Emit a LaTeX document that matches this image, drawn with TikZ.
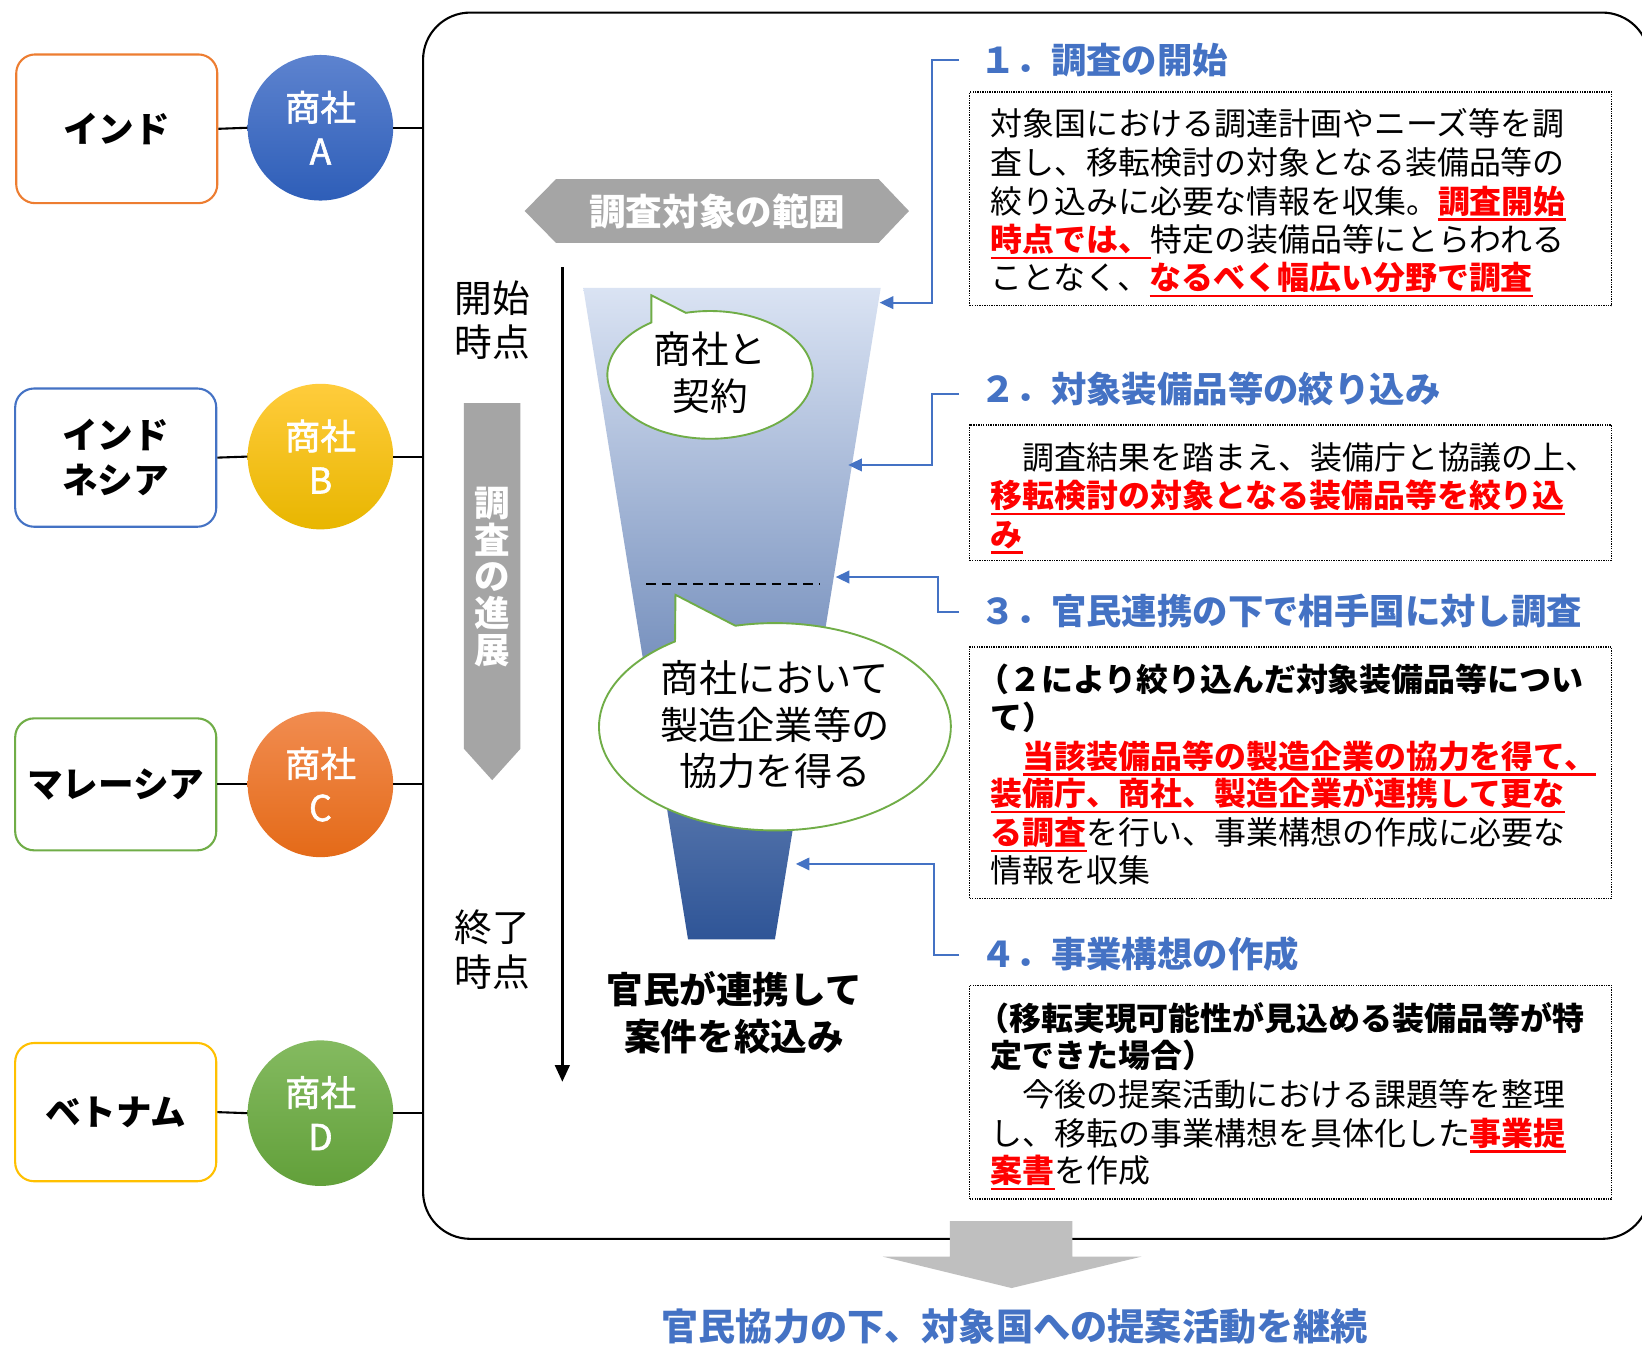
\documentclass[tikz,border=0pt]{standalone}
\usepackage{fontspec}
\setmainfont{Noto Sans CJK JP}
\newfontfamily\medfont{Noto Sans CJK JP}[FakeBold=1.6]
\usetikzlibrary{arrows.meta}
\definecolor{jblue}{HTML}{4472C4}
\definecolor{jorange}{HTML}{ED7D31}
\definecolor{jgreen}{HTML}{70AD47}
\definecolor{jyellow}{HTML}{FFC000}
\definecolor{jgray}{HTML}{A5A5A5}
\definecolor{jlgray}{HTML}{BFBFBF}
\definecolor{jred}{HTML}{FF0000}
\newcommand\redu[1]{{\color{jred}\bfseries\setbox0\hbox{#1}\rlap{\rule[-7pt]{\wd0}{2.2pt}}\box0}}
\tikzset{
 ctry/.style={draw, line width=2pt, rounded corners=18pt, fill=white, minimum width=192pt, align=center, inner sep=0pt, font=\fontsize{34}{43}\selectfont\bfseries},
 firm/.style={circle, minimum size=139pt, inner sep=0pt, text=white, align=center, font=\medfont\fontsize{34}{42}\selectfont},
 link/.style={line width=2pt, black},
 dotbox/.style={draw, densely dotted, line width=1.3pt, minimum width=613pt, inner sep=0pt},
 txt/.style={anchor=base west, inner sep=0pt, font=\fontsize{30.5}{36}\selectfont},
 btxt/.style={anchor=base west, inner sep=0pt, font=\fontsize{30.5}{36}\selectfont\bfseries},
 hd/.style={anchor=base west, inner sep=0pt, text=jblue, font=\fontsize{33.8}{40}\selectfont\bfseries},
 bconn/.style={jblue, line width=1.8pt, -{Triangle[length=13pt,width=12pt]}},
 callout/.style={draw=jgreen, line width=1.8pt, fill=white},
}
\begin{document}
\begin{tikzpicture}[x=1pt,y=-1pt]
\useasboundingbox (0,0) rectangle (1568,1285);
\clip (0,0) rectangle (1568,1285);
\fill[white] (0,0) rectangle (1568,1285);

% big frame
\node[draw, line width=2pt, rounded corners=45pt, minimum width=1171pt, minimum height=1171pt, inner sep=0pt] (frame) at (989.5,597.5) {};

% countries and firms
\node[ctry, draw=jorange, minimum height=142pt] (india) at (111.5,123) {インド};
\node[ctry, draw=jblue, minimum height=132pt] (indo) at (110.5,437) {インド\\ネシア};
\node[ctry, draw=jgreen, minimum height=126pt] (mal) at (110.5,749) {マレーシア};
\node[ctry, draw=jyellow, minimum height=132pt] (viet) at (110.5,1062) {ベトナム};

\node[firm, top color={rgb,255:red,93;green,131;blue,207}, bottom color={rgb,255:red,46;green,94;blue,184}] (A) at (306,122) {商社\\A};
\node[firm, top color={rgb,255:red,255;green,204;blue,60}, bottom color={rgb,255:red,232;green,182;blue,0}] (B) at (306,436) {商社\\B};
\node[firm, top color={rgb,255:red,241;green,140;blue,80}, bottom color={rgb,255:red,228;green,106;blue,24}] (C) at (306,749) {商社\\C};
\node[firm, top color={rgb,255:red,132;green,186;blue,96}, bottom color={rgb,255:red,98;green,160;blue,58}] (D) at (306,1063) {商社\\D};

\draw[link] (india.east) -- (A.west);
\draw[link] (A.east) -- (frame.west |- A);
\draw[link] (indo.east) -- (B.west);
\draw[link] (B.east) -- (frame.west |- B);
\draw[link] (mal.east) -- (C.west);
\draw[link] (C.east) -- (frame.west |- C);
\draw[link] (viet.east) -- (D.west);
\draw[link] (D.east) -- (frame.west |- D);

% scope hexagon
\fill[jgray] (501,201.5) -- (531,171) -- (839,171) -- (868,201.5) -- (839,232) -- (531,232) -- cycle;
\node[text=white, font=\fontsize{35}{40}\selectfont\bfseries] (scope) at (685,201.5) {調査対象の範囲};

% time axis
\draw[line width=2.5pt, -{Triangle[length=16pt,width=14pt]}] (537,255) -- (537,1033);
\node[font=\fontsize{36}{42}\selectfont, align=center] (st) at (470,306) {開始\\時点};
\node[font=\fontsize{36}{43}\selectfont, align=center] (en) at (470,907) {終了\\時点};

% progress arrow
\fill[jgray] (443,385) -- (497,385) -- (497,715) -- (470,745) -- (443,715) -- cycle;
\node[text=white, font=\fontsize{34}{35}\selectfont\bfseries, align=center] (prog) at (470,551) {調\\査\\の\\進\\展};

% funnel
\shade[top color={rgb,255:red,218;green,227;blue,243}, middle color={rgb,255:red,158;green,180;blue,224}, bottom color={rgb,255:red,47;green,85;blue,151}] (557,275) -- (841,275) -- (740,897) -- (657,897) -- cycle;
\draw[line width=2pt, dash pattern=on 9pt off 6pt] (617,558) -- (783,558);

% callouts
\coordinate (c1) at (678,358);
\coordinate (t1) at (622,282);
\path[callout] ([shift={(103.6:98pt and 61pt)}]c1) -- (t1) -- ([shift={(124.8:98pt and 61pt)}]c1) arc[start angle=124.8, end angle=463.6, x radius=98pt, y radius=61pt] -- cycle;
\node[font=\fontsize{36}{45}\selectfont, align=center] (ct1) at (678,356) {商社と\\契約};

\coordinate (c2) at (740,694);
\coordinate (t2) at (645,568);
\path[callout] ([shift={(103:168pt and 99pt)}]c2) -- (t2) -- ([shift={(124.6:168pt and 99pt)}]c2) arc[start angle=124.6, end angle=463, x radius=168pt, y radius=99pt] -- cycle;
\node[font=\fontsize{36.5}{44.5}\selectfont, align=center] (ct2) at (740,692) {商社において\\製造企業等の\\協力を得る};

\node[font=\fontsize{35}{44}\selectfont\bfseries, align=center] (res) at (701,967) {官民が連携して\\案件を絞込み};

% headings and connectors
\node[hd] (h1) at (936,70) {１．調査の開始};
\node[hd] (h2) at (936,384) {２．対象装備品等の絞り込み};
\node[hd] (h3) at (936,596) {３．官民連携の下で相手国に対し調査};
\node[hd] (h4) at (936,924) {４．事業構想の作成};
\coordinate (s1) at (916,57);
\coordinate (s2) at (916,376);
\coordinate (s3) at (916,584);
\coordinate (s4) at (916,912);
\coordinate (f1) at (840,289);
\coordinate (f2) at (810,444);
\coordinate (f3) at (798,551);
\coordinate (f4) at (760,825);
\draw[bconn] (s1) -- ++(-26,0) |- (f1);
\draw[bconn] (s2) -- ++(-26,0) |- (f2);
\draw[bconn] (s3) -- ++(-20,0) |- (f3);
\draw[bconn] (s4) -- ++(-24,0) |- (f4);

% dotted boxes
\node[dotbox, minimum height=204pt] (box1) at (1232.5,190) {};
\node[dotbox, minimum height=129pt] (box2) at (1232.5,470.5) {};
\node[dotbox, minimum height=240pt] (box3) at (1232.5,738) {};
\node[dotbox, minimum height=204pt] (box4) at (1232.5,1043) {};

% box 1 text
\node[txt] (b1a) at (946,129.6) {対象国における調達計画やニーズ等を調};
\node[txt] (b1b) at (946,166.6) {査し、移転検討の対象となる装備品等の};
\node[txt] (b1c) at (946,203.6) {絞り込みに必要な情報を収集。\redu{調査開始}};
\node[txt] (b1d) at (946,240.6) {\redu{時点では、}特定の装備品等にとらわれる};
\node[txt] (b1e) at (946,276.6) {ことなく、\redu{なるべく幅広い分野で調査}};

% box 2 text
\node[txt] (b2a) at (946,448.6) {　調査結果を踏まえ、装備庁と協議の上、};
\node[txt] (b2b) at (946,484.6) {\redu{移転検討の対象となる装備品等を絞り込}};
\node[txt] (b2c) at (946,521.6) {\redu{み}};

% box 3 text
\node[btxt] (b3a) at (933,660.6) {（２により絞り込んだ対象装備品等につい};
\node[btxt] (b3b) at (946,696.6) {て）};
\node[txt] (b3c) at (946,733.6) {　\redu{当該装備品等の製造企業の協力を得て、}};
\node[txt] (b3d) at (946,769.6) {\redu{装備庁、商社、製造企業が連携して更な}};
\node[txt] (b3e) at (946,806.6) {\redu{る調査}を行い、事業構想の作成に必要な};
\node[txt] (b3f) at (946,842.6) {情報を収集};

% box 4 text
\node[btxt] (b4a) at (933,983.6) {（移転実現可能性が見込める装備品等が特};
\node[btxt] (b4b) at (946,1019.6) {定できた場合）};
\node[txt] (b4c) at (946,1056.6) {　今後の提案活動における課題等を整理};
\node[txt] (b4d) at (946,1093.6) {し、移転の事業構想を具体化した\redu{事業提}};
\node[txt] (b4e) at (946,1129.6) {\redu{案書}を作成};

% bottom arrow and text
\fill[jlgray] (907,1166) -- (1024,1166) -- (1024,1200) -- (1090,1200) -- (966,1230) -- (843,1200) -- (907,1200) -- cycle;
\node[text=jblue, font=\fontsize{35.5}{40}\selectfont\bfseries] (final) at (969,1267) {官民協力の下、対象国への提案活動を継続};
\end{tikzpicture}
\end{document}
